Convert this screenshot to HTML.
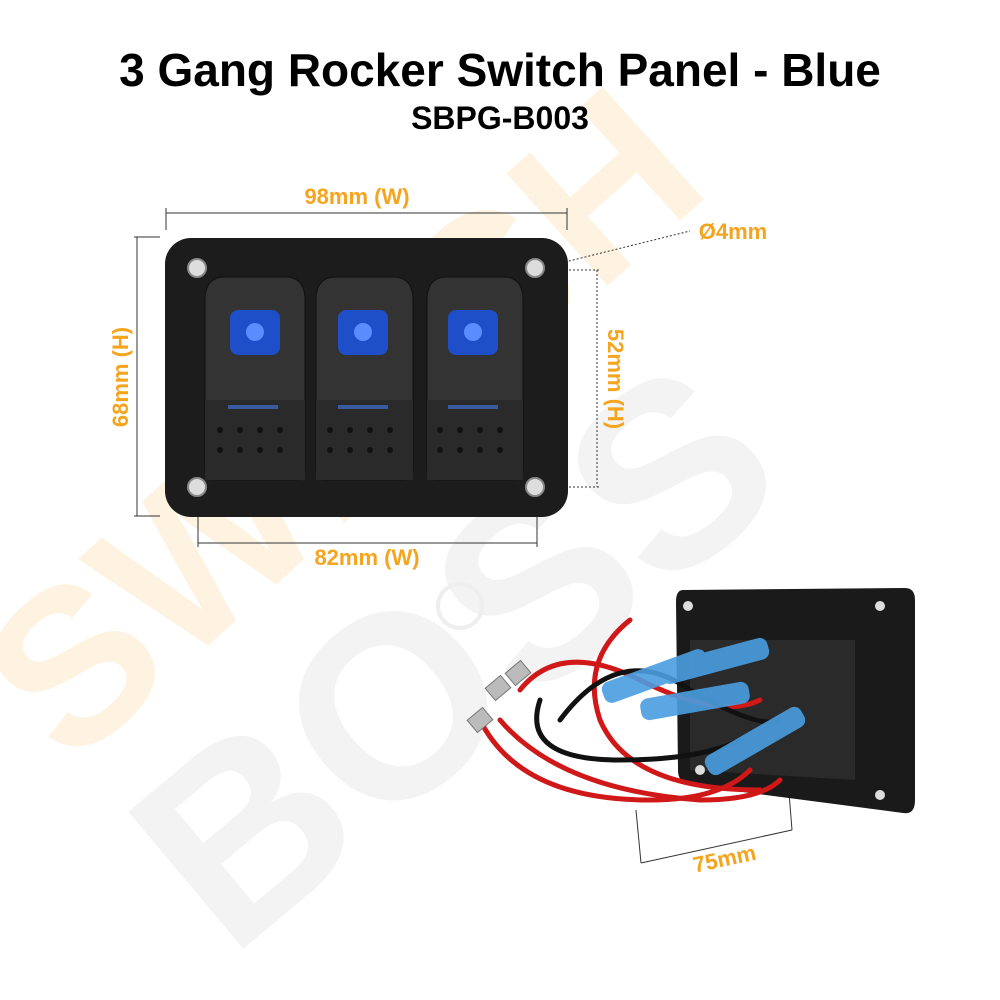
<!DOCTYPE html>
<html><head><meta charset="utf-8"><style>
html,body{margin:0;padding:0;background:#fff;width:1000px;height:1000px;overflow:hidden}
</style></head><body>
<svg width="1000" height="1000" viewBox="0 0 1000 1000" xmlns="http://www.w3.org/2000/svg" font-family="Liberation Sans, Arial, sans-serif">
<g opacity="0.5">
<text x="0" y="0" transform="translate(70,770) rotate(-42)" font-size="220" font-weight="bold" fill="#fde9c2">SWITCH</text>
<text x="0" y="0" transform="translate(230,960) rotate(-40)" font-size="260" font-weight="bold" fill="#e8e8e8">BOSS</text>
</g>
<circle cx="460" cy="606" r="22" fill="none" stroke="#eee" stroke-width="4"/>
<text x="500" y="86" text-anchor="middle" font-size="46" font-weight="bold" fill="#000">3 Gang Rocker Switch Panel - Blue</text>
<text x="500" y="129" text-anchor="middle" font-size="32" font-weight="bold" fill="#000">SBPG-B003</text>
<g stroke="#333" stroke-width="1">
<line x1="166" y1="213" x2="567" y2="213"/><line x1="166" y1="208" x2="166" y2="230"/><line x1="567" y1="208" x2="567" y2="230"/>
<line x1="137" y1="237" x2="137" y2="516"/><line x1="134" y1="237" x2="160" y2="237"/><line x1="134" y1="516" x2="160" y2="516"/>
<line x1="198" y1="543" x2="537" y2="543"/><line x1="198" y1="515" x2="198" y2="547"/><line x1="537" y1="515" x2="537" y2="547"/>
<line x1="597" y1="270" x2="597" y2="487" stroke-dasharray="2,2"/><line x1="545" y1="270" x2="600" y2="270" stroke-dasharray="2,2"/><line x1="545" y1="487" x2="600" y2="487" stroke-dasharray="2,2"/>
<line x1="565" y1="262" x2="690" y2="231" stroke-dasharray="2,2"/>
<line x1="641" y1="863" x2="792" y2="830"/><line x1="641" y1="863" x2="636" y2="810"/><line x1="792" y1="830" x2="788" y2="780"/>
</g>
<g fill="#f5a41e" font-weight="bold" font-size="22">
<text x="357" y="204" text-anchor="middle">98mm (W)</text>
<text x="367" y="565" text-anchor="middle">82mm (W)</text>
<text x="733" y="239" text-anchor="middle">Ø4mm</text>
<text transform="translate(128,377) rotate(-90)" text-anchor="middle">68mm (H)</text>
<text transform="translate(608,379) rotate(90)" text-anchor="middle">52mm (H)</text>
<text transform="translate(726,866) rotate(-12)" text-anchor="middle">75mm</text>
</g>
<rect x="165" y="238" width="403" height="279" rx="26" fill="#1c1c1c"/>
<g fill="#ddd" stroke="#888" stroke-width="2">
<circle cx="197" cy="268" r="9"/><circle cx="535" cy="268" r="9"/><circle cx="197" cy="487" r="9"/><circle cx="535" cy="487" r="9"/>
</g>
<g>
<path d="M205 300 Q205 277 225 277 L285 277 Q305 277 305 300 L305 470 Q305 480 295 480 L215 480 Q205 480 205 470 Z" fill="#333" stroke="#111"/>
<path d="M316 300 Q316 277 336 277 L393 277 Q413 277 413 300 L413 470 Q413 480 403 480 L326 480 Q316 480 316 470 Z" fill="#333" stroke="#111"/>
<path d="M427 300 Q427 277 447 277 L503 277 Q523 277 523 300 L523 470 Q523 480 513 480 L437 480 Q427 480 427 470 Z" fill="#333" stroke="#111"/>
<rect x="205" y="400" width="100" height="80" fill="#2a2a2a"/>
<rect x="316" y="400" width="97" height="80" fill="#2a2a2a"/>
<rect x="427" y="400" width="96" height="80" fill="#2a2a2a"/>
</g>
<g fill="#1e4fc8">
<rect x="230" y="310" width="50" height="45" rx="8"/>
<rect x="338" y="310" width="50" height="45" rx="8"/>
<rect x="448" y="310" width="50" height="45" rx="8"/>
</g>
<g fill="#5a8cff"><circle cx="255" cy="332" r="9"/><circle cx="363" cy="332" r="9"/><circle cx="473" cy="332" r="9"/></g>
<g fill="#3a5aa0"><rect x="228" y="405" width="50" height="4"/><rect x="338" y="405" width="50" height="4"/><rect x="448" y="405" width="50" height="4"/></g>
<g fill="#111">
<circle cx="220" cy="430" r="3"/><circle cx="240" cy="430" r="3"/><circle cx="260" cy="430" r="3"/><circle cx="280" cy="430" r="3"/>
<circle cx="220" cy="450" r="3"/><circle cx="240" cy="450" r="3"/><circle cx="260" cy="450" r="3"/><circle cx="280" cy="450" r="3"/>
<circle cx="330" cy="430" r="3"/><circle cx="350" cy="430" r="3"/><circle cx="370" cy="430" r="3"/><circle cx="390" cy="430" r="3"/>
<circle cx="330" cy="450" r="3"/><circle cx="350" cy="450" r="3"/><circle cx="370" cy="450" r="3"/><circle cx="390" cy="450" r="3"/>
<circle cx="440" cy="430" r="3"/><circle cx="460" cy="430" r="3"/><circle cx="480" cy="430" r="3"/><circle cx="500" cy="430" r="3"/>
<circle cx="440" cy="450" r="3"/><circle cx="460" cy="450" r="3"/><circle cx="480" cy="450" r="3"/><circle cx="500" cy="450" r="3"/>
</g>
<path d="M683 590 L905 588 Q915 588 915 600 L915 800 Q915 815 903 813 L690 785 Q678 783 678 770 L676 602 Q676 590 683 590 Z" fill="#1a1a1a"/>
<path d="M690 640 L855 640 L855 780 L690 770 Z" fill="#2a2a2a"/>
<g fill="#ddd"><circle cx="688" cy="606" r="5"/><circle cx="880" cy="606" r="5"/><circle cx="700" cy="770" r="5"/><circle cx="880" cy="795" r="5"/></g>
<g fill="none" stroke-width="5" stroke-linecap="round">
<path d="M630 620 Q580 660 600 720 Q630 790 760 790" stroke="#d01818"/>
<path d="M500 720 Q560 790 700 800 Q760 800 780 780" stroke="#d01818"/>
<path d="M520 690 Q560 640 640 680 Q720 720 760 700" stroke="#d01818"/>
<path d="M540 700 Q520 760 620 760 Q700 760 740 740" stroke="#111"/>
<path d="M560 720 Q620 640 690 690 Q760 730 780 720" stroke="#111"/>
<path d="M480 720 Q520 800 650 800 Q720 800 750 770" stroke="#d01818"/>
</g>
<g fill="#4a9ee0" opacity="0.9">
<rect x="660" y="650" width="110" height="22" rx="8" transform="rotate(-15 715 661)"/>
<rect x="640" y="690" width="110" height="22" rx="8" transform="rotate(-10 695 701)"/>
<rect x="600" y="665" width="110" height="22" rx="8" transform="rotate(-20 655 676)"/>
<rect x="700" y="730" width="110" height="22" rx="8" transform="rotate(-30 755 741)"/>
</g>
<g fill="#bbb" stroke="#777">
<rect x="488" y="680" width="20" height="16" transform="rotate(-40 498 688)"/>
<rect x="470" y="712" width="20" height="16" transform="rotate(-40 480 720)"/>
<rect x="508" y="665" width="20" height="16" transform="rotate(-40 518 673)"/>
</g>
</svg>
</body></html>
